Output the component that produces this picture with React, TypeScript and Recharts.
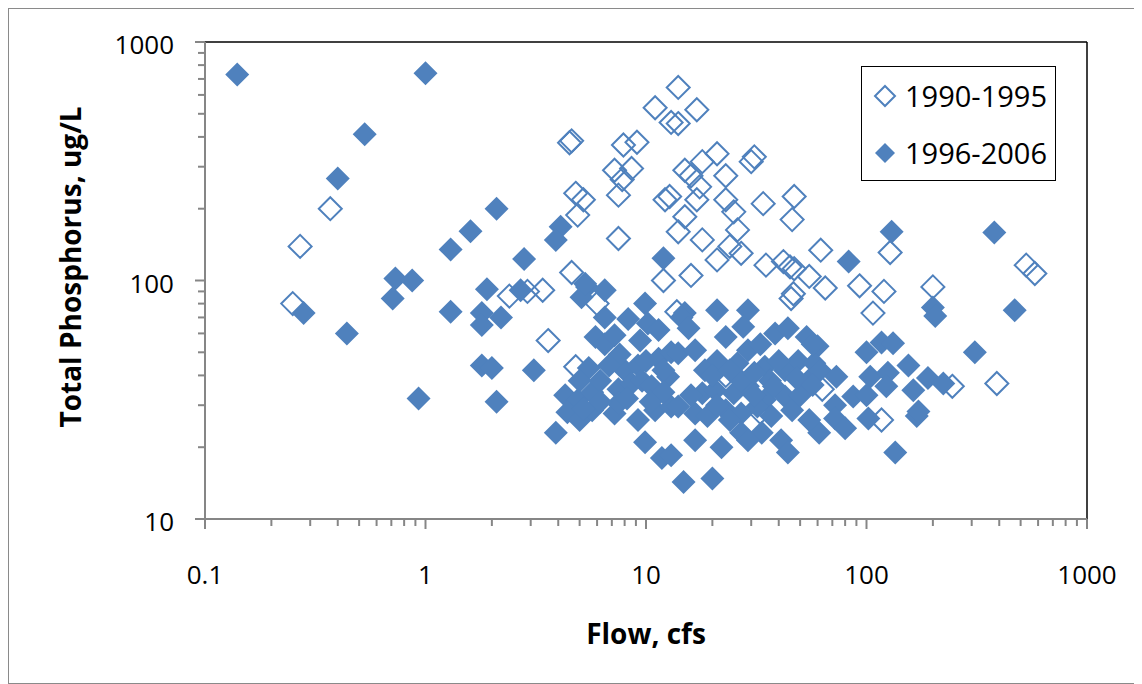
import React from "react";
import { Legend, ReferenceLine, Scatter, ScatterChart, XAxis, YAxis } from "recharts";

const BLUE = "#4F81BD";
const AXIS_GREY = "#868686";
const FONT = "'Open Sans', 'Liberation Sans', sans-serif";

// major tick labels (log axes)
const flowTicks = [0.1, 1, 10, 100, 1000];
const tpTicks = [10, 100, 1000];

// [flow cfs, total phosphorus ug/L]
const samples9095: [number, number][] = [
  [14, 645], [11, 530], [17, 520], [13, 460], [14, 455], [4.6, 385], [4.5, 378],
  [7.9, 370], [9.1, 380], [7.2, 290], [8.6, 295], [7.8, 265], [7.5, 228], [15, 290],
  [16, 275], [18, 315], [21, 340], [30, 315], [31, 330], [23, 275], [17.5, 247],
  [4.8, 232], [5.2, 218], [4.9, 188], [12.2, 218], [12.8, 225], [15, 185], [17, 218],
  [23, 218], [25, 194], [34, 210], [47, 225], [46, 180], [14, 160], [18, 148],
  [26, 163], [24, 139], [27, 130], [21, 122], [7.5, 150], [35, 116], [42, 120],
  [45, 114], [47, 112], [62, 134], [55, 104], [46.6, 88], [45.5, 84], [12, 100],
  [16, 105], [4.6, 108], [3.4, 91], [2.9, 90], [13.8, 74], [2.4, 86], [6, 80],
  [3.6, 56], [4.8, 43.5], [23, 40], [128, 131], [65, 93], [93, 95], [120, 90],
  [200, 94], [530, 116], [580, 107], [107, 73], [390, 37], [245, 36], [63, 35],
  [117, 26], [33, 28], [0.37, 200], [0.27, 139], [0.25, 80],
];

const samples9606: [number, number][] = [
  [0.14, 730], [1.0, 740], [0.53, 410], [0.4, 268], [2.1, 200], [1.6, 161], [1.3, 135],
  [2.8, 123], [0.73, 102], [0.87, 100], [0.71, 84], [0.28, 73], [0.44, 60], [1.3, 74],
  [1.9, 92], [1.8, 73], [1.8, 65], [2.2, 70], [2.7, 91], [1.8, 44], [2.0, 43],
  [0.93, 32], [2.1, 31], [3.1, 42],
  [4.1, 168], [3.9, 148], [12, 124], [5.4, 94], [6.5, 91], [5.1, 85], [9.9, 80],
  [21, 75], [29, 75], [15, 73], [5.3, 97],
  [6.5, 70], [8.3, 69], [10.2, 66], [5.9, 58], [6.5, 54], [11.4, 62], [5.5, 43],
  [5, 38], [8, 42], [9.2, 44], [11.4, 47], [13, 50], [4.3, 33], [4.9, 31.5],
  [5.7, 34], [7.5, 35], [8.6, 37], [9.6, 38], [10.6, 36], [12.6, 39.5], [4.4, 28],
  [5, 26], [5.7, 28.6], [7.2, 27.7], [7.5, 30.6], [9.2, 26], [11, 28.6], [13, 29.6],
  [3.9, 23], [9.9, 21], [11.8, 18], [13, 18.5], [14.8, 14.3],
  [7.2, 59], [9.4, 56], [7.6, 49], [6.2, 38],
  [6.8, 44], [10, 46], [12, 42], [8.2, 32], [6.2, 31], [10.5, 31], [12, 34], [5.2, 29],
  [14.5, 70], [15.6, 63], [23, 58], [27.6, 64], [38.5, 60], [44, 63], [53.5, 58],
  [60, 53], [14, 49.5], [16.7, 51], [21, 46], [26, 45], [29, 51], [34.6, 43.5],
  [42.7, 42], [49, 46], [54.5, 38], [58, 45], [18, 33.7], [20.6, 34.7], [25, 33.7],
  [29, 36], [34.6, 31.6], [42.7, 32.6], [46, 28.6], [16.7, 27.7], [19, 27], [23, 28.6],
  [27, 27.7], [32, 29.6], [61, 23], [16.7, 21.4], [22, 20], [27, 23], [33.5, 23],
  [41, 21.4], [44, 19], [20, 14.8], [14, 29.6],
  [33, 54], [36.5, 38], [50, 33], [24, 26], [18.5, 42], [29, 21.4], [55, 26],
  [16, 33], [27, 38],
  [20, 40], [24, 42], [31, 41], [38, 36], [31, 33], [21, 30], [37, 27], [48, 39], [40, 46],
  [130, 160], [83, 120], [380, 159], [200, 77], [470, 75], [205, 71], [310, 50],
  [57, 54], [100, 50], [117, 55], [132, 54.5], [155, 44], [104, 39.5], [125, 41],
  [123, 36], [190, 39], [223, 37], [163, 34.7], [61.5, 42], [73, 39.5], [57, 36.5],
  [72, 30], [87, 32.6], [100, 33], [72, 26.4], [80, 24], [102, 26.4], [169, 27],
  [172, 28.2], [135, 19],
];

const toRows = (pts: [number, number][]) => pts.map(([flow, tp]) => ({ flow, tp }));

// majors plus the 2..9 minors between them
function logTicks(majors: number[]) {
  const out: number[] = [];
  majors.forEach((m, i) => {
    out.push(m);
    if (i < majors.length - 1) {
      for (let k = 2; k <= 9; k++) out.push(+(m * k).toPrecision(6));
    }
  });
  return out;
}
const isMajor = (v: number) => Math.abs(Math.log10(v) - Math.round(Math.log10(v))) < 1e-6;

function FlowTick(props: any) {
  const { x, y, payload } = props;
  const major = isMajor(payload.value);
  return (
    <g>
      <line x1={x} x2={x} y1={y} y2={y + (major ? 10 : 7)} stroke={AXIS_GREY} strokeWidth={2} />
      {major && (
        <text x={x} y={y + 55} textAnchor="middle" dominantBaseline="central" fontFamily={FONT} fontSize={26} fill="#000">
          {payload.value}
        </text>
      )}
    </g>
  );
}

function TpTick(props: any) {
  const { x, y, payload } = props;
  const major = isMajor(payload.value);
  return (
    <g>
      <line x1={x} x2={x - (major ? 10 : 7)} y1={y} y2={y} stroke={AXIS_GREY} strokeWidth={2} />
      {major && (
        <text x={x - 31} y={y + 2} textAnchor="end" dominantBaseline="central" fontFamily={FONT} fontSize={26} fill="#000">
          {payload.value}
        </text>
      )}
    </g>
  );
}

const diamond = (r: number, filled: boolean) => (props: any) => {
  const { cx, cy } = props;
  if (cx == null || cy == null) return <g />;
  return (
    <polygon
      points={`${cx},${cy - r} ${cx + r},${cy} ${cx},${cy + r} ${cx - r},${cy}`}
      fill={filled ? BLUE : "none"}
      stroke={BLUE}
      strokeWidth={filled ? 0 : 2}
    />
  );
};

function LegendBox(props: any) {
  const items = props.payload || [];
  return (
    <div style={{ border: "1.5px solid #000", width: 195, height: 115, background: "#fff", boxSizing: "border-box", position: "relative" }}>
      {items.map((it: any, i: number) => (
        <div key={it.value} style={{ position: "absolute", left: 0, top: i === 0 ? 11 : 68, height: 36, display: "flex", alignItems: "center" }}>
          <svg width={43} height={36} style={{ display: "block" }}>
            <polygon
              points="23,8 33,18 23,28 13,18"
              fill={i === 0 ? "none" : BLUE}
              stroke={BLUE}
              strokeWidth={i === 0 ? 2 : 0}
            />
          </svg>
          <span style={{ fontFamily: FONT, fontSize: 29, color: "#000", lineHeight: "36px" }}>{it.value}</span>
        </div>
      ))}
    </div>
  );
}

export default function App() {
  return (
    <div style={{ position: "relative", width: 1130, height: 674, border: "1px solid #8a8a8a", background: "#fff" }}>
      <ScatterChart width={1130} height={674} margin={{ top: 33, right: 52, left: 136, bottom: 134 }}>
        <XAxis
          dataKey="flow"
          type="number"
          scale="log"
          domain={[0.1, 1000]}
          ticks={logTicks(flowTicks)}
          interval={0}
          height={30}
          tickSize={0}
          tickMargin={0}
          tickLine={false}
          axisLine={{ stroke: AXIS_GREY, strokeWidth: 2 }}
          tick={<FlowTick />}
          allowDataOverflow
        />
        <YAxis
          dataKey="tp"
          type="number"
          scale="log"
          domain={[10, 1000]}
          ticks={logTicks(tpTicks)}
          interval={0}
          width={60}
          tickSize={0}
          tickMargin={0}
          tickLine={false}
          axisLine={{ stroke: AXIS_GREY, strokeWidth: 2 }}
          tick={<TpTick />}
          allowDataOverflow
        />
        <ReferenceLine y={1000} stroke="#000" strokeWidth={1.5} />
        <ReferenceLine x={1000} stroke="#000" strokeWidth={1.5} />
        <Scatter name="1990-1995" data={toRows(samples9095)} shape={diamond(11.5, false)} isAnimationActive={false} />
        <Scatter name="1996-2006" data={toRows(samples9606)} shape={diamond(12, true)} isAnimationActive={false} />
        <Legend
          layout="vertical"
          align="center"
          verticalAlign="middle"
          content={<LegendBox />}
          wrapperStyle={{ position: "absolute", left: 852, top: 57, width: 195, height: 115 }}
        />
      </ScatterChart>
      <div
        style={{
          position: "absolute",
          left: 637,
          top: 624,
          transform: "translate(-50%, -50%)",
          fontFamily: FONT,
          fontWeight: 700,
          fontSize: 28,
          whiteSpace: "nowrap",
        }}
      >
        Flow, cfs
      </div>
      <div
        style={{
          position: "absolute",
          left: 61,
          top: 258,
          transform: "translate(-50%, -50%) rotate(-90deg)",
          fontFamily: FONT,
          fontWeight: 700,
          fontSize: 28,
          whiteSpace: "nowrap",
        }}
      >
        Total Phosphorus, ug/L
      </div>
    </div>
  );
}
